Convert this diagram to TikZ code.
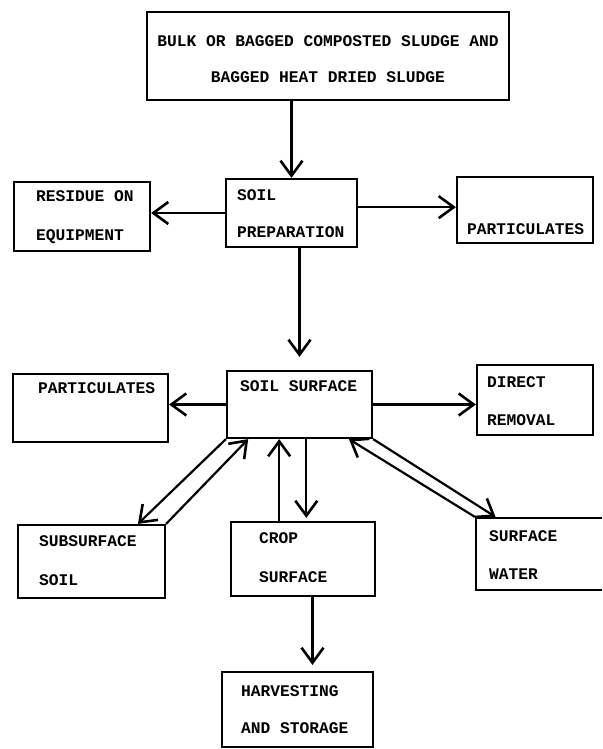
\documentclass[tikz,border=0pt]{standalone}
\usepackage{fontspec}
\setmonofont{Liberation Mono}
\usetikzlibrary{arrows.meta}
\begin{document}
\begin{tikzpicture}[x=1pt, y=-1pt,
  box/.style={draw, line width=2.2pt, inner sep=0pt},
  lbl/.style={anchor=base west, inner sep=0pt, font=\fontsize{16.25}{18}\selectfont\ttfamily\bfseries},
  arr/.style={line width=2.2pt, -{Straight Barb[length=15pt, width=22pt, line width=2.6pt]}}]
% Page size, same as the scan
\useasboundingbox (0,0) rectangle (602,749);
\clip (0,0) rectangle (602,749);

% Draw the boxes
\node[box, minimum width=362pt, minimum height=88pt] (bulk) at (328,56) {};
\node[box, minimum width=131pt, minimum height=68pt] (prep) at (291.5,213) {};
\node[box, minimum width=136pt, minimum height=69pt] (resid) at (82,216.5) {};
\node[box, minimum width=136pt, minimum height=66pt] (partr) at (525,210) {};
\node[box, minimum width=145pt, minimum height=67pt] (surf) at (299.5,404.5) {};
\node[box, minimum width=155pt, minimum height=68pt] (partl) at (90.5,408) {};
\node[box, minimum width=116pt, minimum height=70pt] (remov) at (535,400) {};
\node[box, minimum width=147pt, minimum height=73pt] (subs) at (91.5,561.5) {};
\node[box, minimum width=144pt, minimum height=74pt] (crop) at (303,559) {};
\node[box, minimum width=134pt, minimum height=72pt] (water) at (543,554) {};
\node[box, minimum width=151pt, minimum height=75pt] (harv) at (297.5,709.5) {};

% Insert the texts
\node[lbl, anchor=base] (bulka) at (328,47) {BULK OR BAGGED COMPOSTED SLUDGE AND};
\node[lbl, anchor=base] (bulkb) at (328,83) {BAGGED HEAT DRIED SLUDGE};
\node[lbl] (prepa) at (237,200) {SOIL};
\node[lbl] (prepb) at (237,237) {PREPARATION};
\node[lbl] (resida) at (36,201) {RESIDUE ON};
\node[lbl] (residb) at (36,240) {EQUIPMENT};
\node[lbl] (partra) at (467,234) {PARTICULATES};
\node[lbl] (surfa) at (240,391) {SOIL SURFACE};
\node[lbl] (partla) at (38,393) {PARTICULATES};
\node[lbl] (remova) at (487,387) {DIRECT};
\node[lbl] (removb) at (487,425) {REMOVAL};
\node[lbl] (subsa) at (39,546) {SUBSURFACE};
\node[lbl] (subsb) at (39,585) {SOIL};
\node[lbl] (cropa) at (259,543) {CROP};
\node[lbl] (cropb) at (259,582) {SURFACE};
\node[lbl] (watera) at (489,541) {SURFACE};
\node[lbl] (waterb) at (489,579) {WATER};
\node[lbl] (harva) at (241,696) {HARVESTING};
\node[lbl] (harvb) at (241,733) {AND STORAGE};

% Arrows
\draw[arr] (bulk.south -| prep.north) -- (prep.north);
\draw[arr] (prep.west) -- (resid.east |- prep.west);
\draw[arr] (prep.5) -- (partr.west |- prep.5);
\draw[arr, shorten >=13pt] (prep.south -| surf.north) -- (surf.north);
\draw[arr] (surf.west) -- (partl.east |- surf.west);
\draw[arr] (surf.east) -- (remov.west |- surf.east);
\draw[arr] (surf.south west) -- (subs.39);
\draw[arr] (subs.north east) -- (surf.214);
\draw[arr] (crop.122) -- (crop.122 |- surf.south);
\draw[arr, shorten >=3pt] (crop.85 |- surf.south) -- (crop.85);
\draw[arr] (surf.south east) -- (water.142);
\draw[arr] (water.north west) -- (surf.325);
\draw[arr, shorten >=6pt] (crop.-76) -- (crop.-76 |- harv.north);
\end{tikzpicture}
\end{document}
